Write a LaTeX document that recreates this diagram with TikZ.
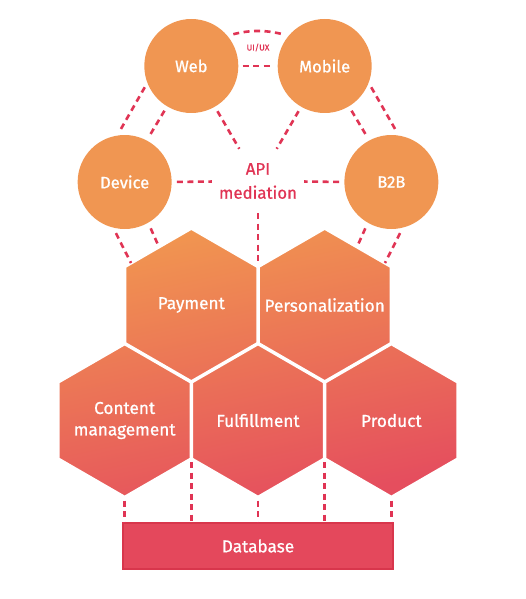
\documentclass[tikz,border=0pt]{standalone}
\usepackage{fontspec}
\setmainfont{Fira Sans}[BoldFont={Fira Sans}, BoldFeatures={FakeBold=0.8}]
\usetikzlibrary{calc}
\definecolor{circfill}{RGB}{240,150,82}
\definecolor{hexA}{RGB}{241,150,80}
\definecolor{hexB}{RGB}{229,78,94}
\definecolor{dashcol}{RGB}{224,52,84}
\definecolor{dbfill}{RGB}{228,72,92}
\definecolor{dbline}{RGB}{216,54,76}
\newcommand\hexpathx[2]{(#1,#2-77) -- (#1+66.68,#2-38.5) -- (#1+66.68,#2+38.5) -- (#1,#2+77) -- (#1-66.68,#2+38.5) -- (#1-66.68,#2-38.5) -- cycle}
\begin{document}
\begin{tikzpicture}[x=1pt,y=-1pt,
  circnode/.style={circle, fill=circfill, minimum size=94pt, inner sep=0pt, text=white, font=\fontsize{16.6}{19}\selectfont\bfseries},
  hexlabel/.style={text=white, font=\fontsize{17.2}{19.5}\selectfont\bfseries, align=center, inner sep=1pt},
  dashline/.style={draw=dashcol, line width=2.6pt, dash pattern=on 6pt off 4.5pt},
  cshort/.style={shorten <=5pt}
]
\useasboundingbox (0,0) rectangle (525,599);

% hexagons with one global gradient
\shade[top color=hexA, bottom color=hexB, shading angle=12]
  \hexpathx{191.32}{305} \hexpathx{324.68}{305}
  \hexpathx{124.64}{420.5} \hexpathx{258}{420.5} \hexpathx{391.36}{420.5};
\draw[white, line width=3.5pt, line join=miter]
  \hexpathx{191.32}{305} \hexpathx{324.68}{305}
  \hexpathx{124.64}{420.5} \hexpathx{258}{420.5} \hexpathx{391.36}{420.5};

\node[hexlabel] (pay) at (191.32,305) {Payment};
\node[hexlabel] (pers) at (324.68,305) {Personalization};
\node[hexlabel] (cont) at (124.64,420.5) {Content\\[2pt]management};
\node[hexlabel] (ful) at (258,420.5) {Fulfillment};
\node[hexlabel] (prod) at (391.36,420.5) {Product};

% hex vertices used by connectors
\coordinate (ppv) at (258,266.5);
\coordinate (payedge) at (131,263);
\coordinate (payin) at (159,247);
\coordinate (persedge) at (385,263);
\coordinate (persin) at (357,247);
\coordinate (cb) at (124.64,497.5);
\coordinate (fb) at (258,497.5);
\coordinate (pb) at (391.36,497.5);
\coordinate (cfv) at (191.32,459);
\coordinate (fpv) at (324.68,459);

% circles
\node[circnode] (web) at (191.32,66) {Web};
\node[circnode] (mob) at (324.68,66) {Mobile};
\node[circnode] (dev) at (124.64,182) {Device};
\node[circnode] (b2b) at (391.36,182) {B2B};

\node[text=dashcol, font=\fontsize{16.8}{19}\selectfont\bfseries, align=center, minimum width=92pt, minimum height=64pt, inner sep=0pt] (api) at (258,181) {API\\[5pt]mediation};
\node[text=dashcol, font=\fontsize{8.5}{10}\selectfont\bfseries] (uiux) at (258,47.5) {UI/UX};

% database
\node[draw=dbline, fill=dbfill, line width=1.2pt, minimum width=270pt, minimum height=46pt, text=white, font=\fontsize{17.2}{19}\selectfont\bfseries] (db) at (258,546) {Database};

% connectors
\draw[dashline, shorten <=6pt, shorten >=6pt] (web.40) to[bend left=14] (mob.140);
\draw[dashline, shorten <=4pt, shorten >=4pt] (web) -- (mob);
\draw[dashline, shorten <=5pt, shorten >=5pt] (web.201) -- (dev.99);
\draw[dashline, shorten <=5pt, shorten >=5pt] (web.239) -- (dev.62);
\draw[dashline, shorten <=5pt, shorten >=5pt] (mob.339) -- (b2b.81);
\draw[dashline, shorten <=5pt, shorten >=5pt] (mob.301) -- (b2b.118);
\draw[dashline, cshort] (web.300) -- (api);
\draw[dashline, cshort] (mob.240) -- (api);
\draw[dashline, cshort] (dev.0) -- (api);
\draw[dashline, cshort] (b2b.180) -- (api);
\draw[dashline, shorten >=3pt] (api.south) -- (ppv);
\draw[dashline, shorten <=6pt] (dev.256) -- (payedge);
\draw[dashline, shorten <=6pt] (dev.300) -- (payin);
\draw[dashline, shorten <=6pt] (b2b.284) -- (persedge);
\draw[dashline, shorten <=6pt] (b2b.240) -- (persin);
\draw[dashline, shorten <=3pt] (cb) -- (cb |- db.north);
\draw[dashline, shorten <=3pt] (fb) -- (fb |- db.north);
\draw[dashline, shorten <=3pt] (pb) -- (pb |- db.north);
\draw[dashline, shorten <=3pt] (cfv) -- (cfv |- db.north);
\draw[dashline, shorten <=3pt] (fpv) -- (fpv |- db.north);
\end{tikzpicture}
\end{document}
